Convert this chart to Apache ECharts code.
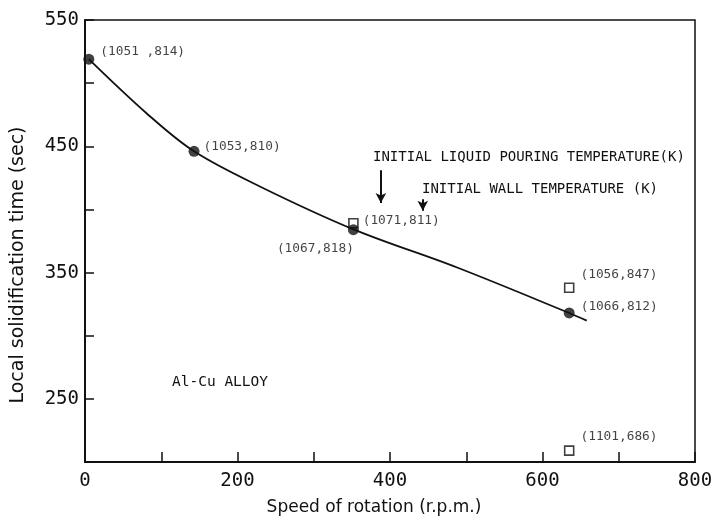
<!DOCTYPE html>
<html>
<head>
<meta charset="utf-8">
<script src="https://cdn.jsdelivr.net/npm/echarts@6/dist/echarts.min.js"></script>
<style>
  html, body { margin: 0; padding: 0; background: #fff; }
  #main { width: 716px; height: 521px; }
</style>
</head>
<body>
<div id="main"></div>
<script>
// fitted curve (speed, time)
var curveX = [5, 81, 143, 230, 353, 488, 635, 658];
var curveY = [519, 476, 446, 418, 384, 354, 318, 312];

// filled circles: computed points
var dotX = [5, 143, 352, 635];
var dotY = [519, 446, 384, 318];
var dotText = ['(1051 ,814)', '(1053,810)', '(1067,818)', '(1066,812)'];

// open squares: other points
var sqX = [352, 635, 635];
var sqY = [389, 338, 209];
var sqText = ['(1071,811)', '(1056,847)', '(1101,686)'];

var xTicks = [0, 200, 400, 600, 800];
var yTicks = [250, 350, 450, 550];

var ink = '#111';
var numFont = 'DejaVu Sans Mono';

var chart = echarts.init(document.getElementById('main'));

var dotOffsets = [[1, -7], [-1, -5], [-38, 2], [1, -6]];
var sqOffsets = [[-1, -3], [1, -13], [1, -14]];

var curveData = curveX.map(function (x, i) { return [x, curveY[i]]; });
var dotData = dotX.map(function (x, i) {
	return {
		value: [x, dotY[i]],
		label: { offset: dotOffsets[i], position: i == 2 ? 'bottom' : 'right' }
	};
});
var sqData = sqX.map(function (x, i) {
	return {
		value: [x, sqY[i]],
		label: { offset: sqOffsets[i] }
	};
});

var option = {
	backgroundColor: '#fff',
	animation: false,
	grid: {
		left: 85,
		right: 21,
		top: 20,
		bottom: 59,
		show: true,
		borderColor: ink,
		borderWidth: 1.5
	},
	xAxis: {
		type: 'value',
		min: 0,
		max: 800,
		interval: 100,
		name: 'Speed of rotation (r.p.m.)',
		nameLocation: 'middle',
		nameGap: 37,
		nameTextStyle: { fontFamily: 'DejaVu Sans', fontSize: 17, color: ink, padding: [0, 32, 0, 0] },
		axisLine: { lineStyle: { color: ink, width: 2 } },
		axisTick: { inside: true, length: 10, lineStyle: { color: ink, width: 1.5 } },
		axisLabel: {
			margin: 10,
			fontFamily: numFont,
			fontSize: 19,
			color: ink,
			formatter: function (v) { return xTicks.indexOf(v) >= 0 ? v : ''; }
		},
		splitLine: { show: false }
	},
	yAxis: {
		type: 'value',
		min: 200,
		max: 550,
		interval: 50,
		name: 'Local solidification time (sec)',
		nameLocation: 'middle',
		nameGap: 57,
		nameTextStyle: { fontFamily: 'DejaVu Sans', fontSize: 19, color: ink, padding: [0, 48, 0, 0] },
		axisLine: { lineStyle: { color: ink, width: 2 } },
		axisTick: { inside: true, length: 9, lineStyle: { color: ink, width: 1.5 } },
		axisLabel: {
			margin: 6,
			fontFamily: numFont,
			fontSize: 19,
			color: ink,
			formatter: function (v) { return yTicks.indexOf(v) >= 0 ? v : ''; }
		},
		splitLine: { show: false }
	},
	graphic: [
		{ type: 'text', left: 373, top: 150, style: { text: 'INITIAL LIQUID POURING TEMPERATURE(K)', font: '14px DejaVu Sans Mono', fill: ink } },
		{ type: 'text', left: 422, top: 182, style: { text: 'INITIAL WALL TEMPERATURE (K)', font: '14px DejaVu Sans Mono', fill: ink } },
		{ type: 'text', left: 172, top: 375, style: { text: 'Al-Cu ALLOY', font: '14.5px DejaVu Sans Mono', fill: ink } }
	],
	series: [
		{
			type: 'line',
			data: curveData,
			smooth: 0.35,
			symbol: 'none',
			lineStyle: { color: ink, width: 1.8 },
			z: 2,
			markLine: {
				silent: true,
				symbol: ['none', 'arrow'],
				symbolSize: [8, 10],
				lineStyle: { color: ink, width: 2, type: 'solid' },
				label: { show: false },
				data: [
					[{ coord: [388, 431] }, { coord: [388, 405] }],
					[{ coord: [443, 408] }, { coord: [443, 399] }]
				]
			}
		},
		{
			type: 'scatter',
			data: dotData,
			symbol: 'circle',
			symbolSize: 11,
			itemStyle: { color: ink },
			z: 4,
			label: {
				show: true,
				formatter: function (p) { return dotText[p.dataIndex]; },
				fontFamily: numFont,
				fontSize: 12.8,
				color: ink
			}
		},
		{
			type: 'scatter',
			data: sqData,
			symbol: 'rect',
			symbolSize: 9,
			itemStyle: { color: '#fff', borderColor: ink, borderWidth: 1.6 },
			z: 3,
			label: {
				show: true,
				position: 'right',
				formatter: function (p) { return sqText[p.dataIndex]; },
				fontFamily: numFont,
				fontSize: 12.8,
				color: ink
			}
		}
	]
};
chart.setOption(option);
</script>
</body>
</html>
